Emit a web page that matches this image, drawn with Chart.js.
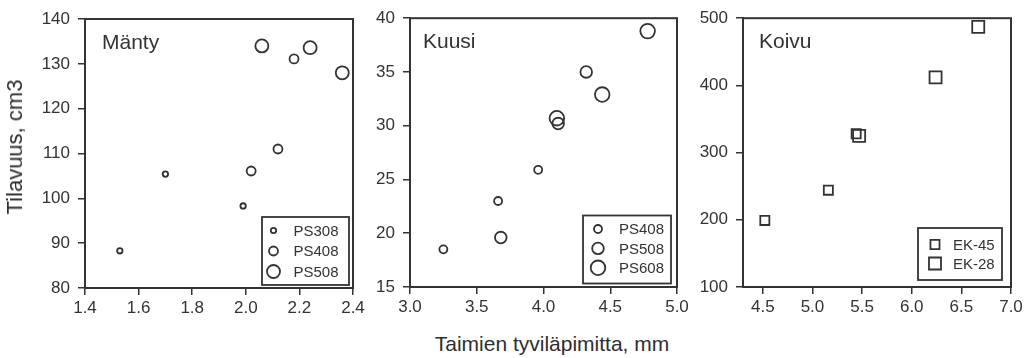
<!DOCTYPE html>
<html lang="fi">
<head>
  <meta charset="UTF-8" />
  <title>Tilavuus ja tyviläpimitta</title>
  <script src="https://cdn.jsdelivr.net/npm/chart.js"></script>
  <style>
    body { margin: 0; background: #fff; }
    #wrap { position: relative; width: 1035px; height: 358px; overflow: hidden; font-family: 'Liberation Sans', Arial, sans-serif; color: #2e2e2e; }
    canvas { position: absolute; top: 0; }
    #c1 { left: 0; }
    #c2 { left: 360px; }
    #c3 { left: 700px; }
    .ytitle { position: absolute; left: 15px; top: 147px; font-size: 22px; transform: translate(-50%, -50%) rotate(-90deg); white-space: nowrap; }
    .xtitle { position: absolute; left: 552px; top: 332px; font-size: 21px; transform: translateX(-50%); white-space: nowrap; }
  </style>
</head>
<body>
<div id="wrap">
  <canvas id="c1" width="380" height="330"></canvas>
  <canvas id="c2" width="340" height="330"></canvas>
  <canvas id="c3" width="335" height="330"></canvas>
  <div class="ytitle">Tilavuus, cm3</div>
  <div class="xtitle">Taimien tyviläpimitta, mm</div>
</div>

<script>
  // Mänty
  const mantyXTicks = [1.4, 1.6, 1.8, 2.0, 2.2, 2.4];
  const mantyYTicks = [80, 90, 100, 110, 120, 130, 140];
  const ps308mX = [1.53, 1.70, 1.99];
  const ps308mY = [88.3, 105.4, 98.3];
  const ps408mX = [2.02, 2.12, 2.18];
  const ps408mY = [106.1, 111.0, 131.1];
  const ps508mX = [2.06, 2.24, 2.36];
  const ps508mY = [134.0, 133.6, 128.0];

  // Kuusi
  const kuusiXTicks = [3.0, 3.5, 4.0, 4.5, 5.0];
  const kuusiYTicks = [15, 20, 25, 30, 35, 40];
  const ps408kX = [3.25, 3.66, 3.96];
  const ps408kY = [18.5, 23.0, 25.9];
  const ps508kX = [3.68, 4.11, 4.32];
  const ps508kY = [19.6, 30.2, 35.0];
  const ps608kX = [4.10, 4.44, 4.78];
  const ps608kY = [30.7, 32.9, 38.8];

  // Koivu
  const koivuXTicks = [4.5, 5.0, 5.5, 6.0, 6.5, 7.0];
  const koivuYTicks = [100, 200, 300, 400, 500];
  const ek45X = [4.52, 5.16, 5.44];
  const ek45Y = [199, 244, 328];
  const ek28X = [5.47, 6.24, 6.67];
  const ek28Y = [325, 412, 487];

  const INK = '#333';
  const FONT = "'Liberation Sans', Arial, sans-serif";

  const pts = (xs, ys) => xs.map((x, i) => ({ x: x, y: ys[i] }));

  function series(label, xs, ys, style, r) {
    return {
      label: label,
      data: pts(xs, ys),
      pointStyle: style,
      pointRadius: r,
      pointHoverRadius: r,
      pointBorderWidth: 1.8,
      pointBorderColor: INK,
      pointBackgroundColor: 'rgba(0,0,0,0)'
    };
  }

  // frame, panel name and legend box inside the plot
  const panelPlugin = {
    id: 'panel',
    afterDraw(chart, args, opts) {
      const { ctx, chartArea: a } = chart;
      ctx.save();
      ctx.strokeStyle = INK;
      ctx.lineWidth = 2;
      ctx.strokeRect(a.left, a.top, a.right - a.left, a.bottom - a.top);

      ctx.fillStyle = INK;
      ctx.font = '21px ' + FONT;
      ctx.textBaseline = 'alphabetic';
      ctx.fillText(opts.name, a.left + opts.nameDx, a.top + opts.nameDy);

      const L = opts.legend;
      const bx = a.right - L.right - L.w;
      const by = a.bottom - L.bottom - L.h;
      ctx.lineWidth = 1.8;
      ctx.strokeRect(bx, by, L.w, L.h);
      ctx.font = '15px ' + FONT;
      ctx.textBaseline = 'middle';
      chart.data.datasets.forEach((ds, i) => {
        const y = by + L.top + i * L.rowH;
        ctx.fillStyle = 'rgba(0,0,0,0)';
        ctx.strokeStyle = INK;
        ctx.lineWidth = 1.8;
        Chart.helpers.drawPoint(ctx, { pointStyle: ds.pointStyle, radius: ds.pointRadius, borderWidth: 1.8, rotation: 0 }, bx + L.markerX, y);
        ctx.fillStyle = INK;
        ctx.fillText(ds.label, bx + L.textX, y + 1);
      });
      ctx.restore();
    }
  };

  function axis(min, max, ticks, fmt, fit) {
    return {
      type: 'linear',
      min: min,
      max: max,
      afterBuildTicks: s => { s.ticks = ticks.map(v => ({ value: v })); },
      afterFit: fit,
      grid: { drawOnChartArea: false, drawTicks: true, tickLength: 7, color: INK, lineWidth: 1.5 },
      border: { display: true, color: INK, width: 2 },
      ticks: { color: INK, font: { family: FONT, size: 17 }, padding: 3, callback: fmt }
    };
  }

  function makeChart(id, datasets, sc, pad, panel) {
    const xFmt = v => v.toFixed(1);
    const yFmt = v => String(v);
    const xs = axis(sc.xMin, sc.xMax, sc.xTicks, xFmt, s => { s.height = sc.xh; });
    const ys = axis(sc.yMin, sc.yMax, sc.yTicks, yFmt, s => { s.width = sc.yw; });
    ys.ticks.padding = 8;
    return new Chart(document.getElementById(id), {
      type: 'scatter',
      data: { datasets: datasets },
      options: {
        responsive: false,
        animation: false,
        events: [],
        layout: { padding: pad },
        scales: { x: xs, y: ys },
        plugins: { legend: { display: false }, tooltip: { enabled: false }, panel: panel }
      },
      plugins: [panelPlugin]
    });
  }

  makeChart('c1', [
    series('PS308', ps308mX, ps308mY, 'circle', 2.7),
    series('PS408', ps408mX, ps408mY, 'circle', 4.5),
    series('PS508', ps508mX, ps508mY, 'circle', 6.5)
  ], { xMin: 1.4, xMax: 2.4, xTicks: mantyXTicks, yMin: 80, yMax: 140, yTicks: mantyYTicks, xh: 42, yw: 85 },
  { top: 19, right: 27, bottom: 0, left: 0 },
  { name: 'Mänty', nameDx: 17, nameDy: 30,
    legend: { w: 87, h: 68, right: 4, bottom: 3, top: 13.5, rowH: 20.5, markerX: 11.5, textX: 31.5 } });

  makeChart('c2', [
    series('PS408', ps408kX, ps408kY, 'circle', 4),
    series('PS508', ps508kX, ps508kY, 'circle', 5.8),
    series('PS608', ps608kX, ps608kY, 'circle', 7.3)
  ], { xMin: 3.0, xMax: 5.0, xTicks: kuusiXTicks, yMin: 15, yMax: 40, yTicks: kuusiYTicks, xh: 43, yw: 50 },
  { top: 18, right: 23, bottom: 0, left: 0 },
  { name: 'Kuusi', nameDx: 13, nameDy: 29.5,
    legend: { w: 88, h: 68, right: 6, bottom: 3.5, top: 13.5, rowH: 19.4, markerX: 15, textX: 36 } });

  makeChart('c3', [
    series('EK-45', ek45X, ek45Y, 'rect', 6.4),
    series('EK-28', ek28X, ek28Y, 'rect', 8.5)
  ], { xMin: 4.3, xMax: 7.0, xTicks: koivuXTicks, yMin: 100, yMax: 500, yTicks: koivuYTicks, xh: 43, yw: 43 },
  { top: 18, right: 24, bottom: 0, left: 0 },
  { name: 'Koivu', nameDx: 16, nameDy: 30,
    legend: { w: 84, h: 52, right: 9, bottom: 7, top: 16.5, rowH: 19, markerX: 17, textX: 35 } });
</script>
</body>
</html>
